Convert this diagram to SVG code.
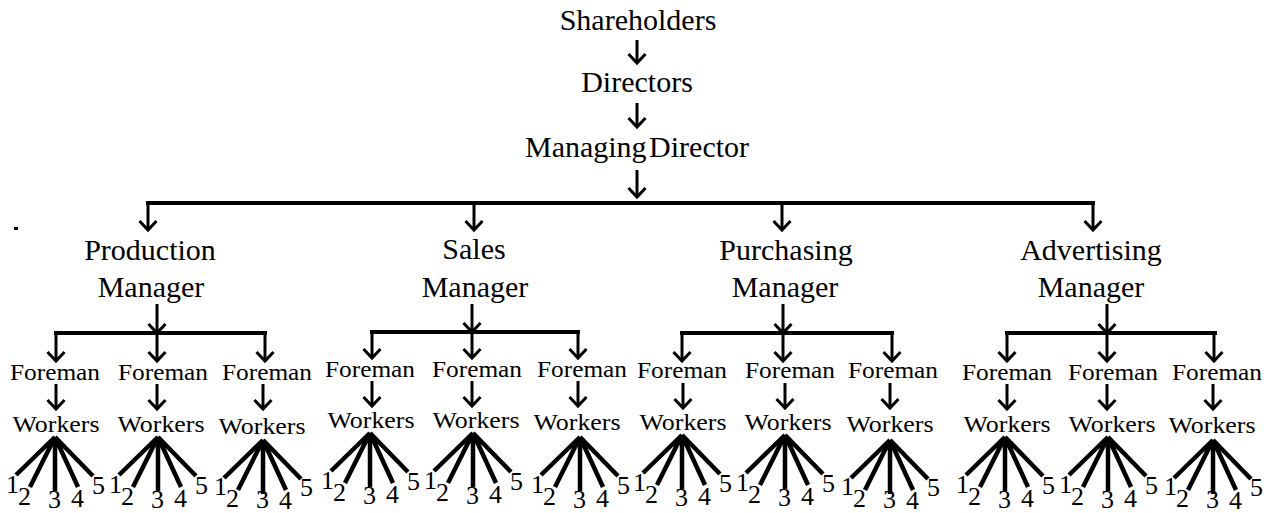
<svg xmlns="http://www.w3.org/2000/svg" width="1274" height="513" viewBox="0 0 1274 513">
  <style>
    text { font-family: "Liberation Serif", Tinos, "Times New Roman", Times, "Nimbus Roman", FreeSerif, "Noto Serif", "DejaVu Serif", serif; fill: #000; }
    .big { font-size: 30px; text-anchor: middle; }
    .small { font-size: 24px; text-anchor: middle; }
    .num { font-size: 26px; }
    .arrow { stroke: #000; stroke-width: 3; fill: none; marker-end: url(#head); }
    .bar { stroke: #000; stroke-width: 4; stroke-linecap: square; fill: none; }
    .fan { stroke: #000; stroke-width: 4.5; stroke-linecap: butt; fill: none; }
  </style>
  <defs>
    <marker id="head" viewBox="-12 -12 24 24" refX="0" refY="0" markerWidth="24" markerHeight="24" markerUnits="userSpaceOnUse" orient="auto">
      <path d="M-9,-8.5 L0,0 L-9,8.5" fill="none" stroke="#000" stroke-width="3"/>
    </marker>
    <!-- five spokes from a worker group to its numbered workers -->
    <path id="spokes" class="fan" d="M0,0 L-39,38 M0,0 L-25,50 M0,0 L0,54 M0,0 L23,50 M0,0 L38,39"/>
  </defs>
  <rect width="1274" height="513" fill="#fff"/>
  <rect x="14" y="227" width="4" height="3" fill="#000"/>

  <!-- top of the hierarchy -->
  <g id="shareholders"><text class="big" x="638" y="30">Shareholders</text></g>
  <g id="directors"><text class="big" x="637" y="92">Directors</text></g>
  <g id="managing-director"><text class="big" x="637" y="157" word-spacing="-5">Managing Director</text></g>

  <!-- department managers -->
  <g id="production-manager"><text class="big" x="150" y="260">Production</text><text class="big" x="151" y="297">Manager</text></g>
  <g id="sales-manager"><text class="big" x="474" y="259">Sales</text><text class="big" x="475" y="297">Manager</text></g>
  <g id="purchasing-manager"><text class="big" x="786" y="260">Purchasing</text><text class="big" x="785" y="297">Manager</text></g>
  <g id="advertising-manager"><text class="big" x="1091" y="260">Advertising</text><text class="big" x="1091" y="297">Manager</text></g>

  <!-- foremen -->
  <g id="foreman-p1"><text class="small" x="55" y="380" textLength="90" lengthAdjust="spacingAndGlyphs">Foreman</text></g>
  <g id="foreman-p2"><text class="small" x="163" y="380" textLength="90" lengthAdjust="spacingAndGlyphs">Foreman</text></g>
  <g id="foreman-p3"><text class="small" x="267" y="380" textLength="90" lengthAdjust="spacingAndGlyphs">Foreman</text></g>
  <g id="foreman-s1"><text class="small" x="370" y="377" textLength="90" lengthAdjust="spacingAndGlyphs">Foreman</text></g>
  <g id="foreman-s2"><text class="small" x="477" y="377" textLength="90" lengthAdjust="spacingAndGlyphs">Foreman</text></g>
  <g id="foreman-s3"><text class="small" x="582" y="377" textLength="90" lengthAdjust="spacingAndGlyphs">Foreman</text></g>
  <g id="foreman-u1"><text class="small" x="682" y="378" textLength="90" lengthAdjust="spacingAndGlyphs">Foreman</text></g>
  <g id="foreman-u2"><text class="small" x="790" y="378" textLength="90" lengthAdjust="spacingAndGlyphs">Foreman</text></g>
  <g id="foreman-u3"><text class="small" x="893" y="378" textLength="90" lengthAdjust="spacingAndGlyphs">Foreman</text></g>
  <g id="foreman-a1"><text class="small" x="1007" y="380" textLength="90" lengthAdjust="spacingAndGlyphs">Foreman</text></g>
  <g id="foreman-a2"><text class="small" x="1113" y="380" textLength="90" lengthAdjust="spacingAndGlyphs">Foreman</text></g>
  <g id="foreman-a3"><text class="small" x="1217" y="380" textLength="90" lengthAdjust="spacingAndGlyphs">Foreman</text></g>

  <!-- worker groups -->
  <g id="workers-p1"><text class="small" x="56" y="432" textLength="87" lengthAdjust="spacingAndGlyphs">Workers</text></g>
  <g id="workers-p2"><text class="small" x="161" y="432" textLength="87" lengthAdjust="spacingAndGlyphs">Workers</text></g>
  <g id="workers-p3"><text class="small" x="262" y="434" textLength="87" lengthAdjust="spacingAndGlyphs">Workers</text></g>
  <g id="workers-s1"><text class="small" x="371" y="428" textLength="87" lengthAdjust="spacingAndGlyphs">Workers</text></g>
  <g id="workers-s2"><text class="small" x="476" y="428" textLength="87" lengthAdjust="spacingAndGlyphs">Workers</text></g>
  <g id="workers-s3"><text class="small" x="577" y="430" textLength="87" lengthAdjust="spacingAndGlyphs">Workers</text></g>
  <g id="workers-u1"><text class="small" x="683" y="430" textLength="87" lengthAdjust="spacingAndGlyphs">Workers</text></g>
  <g id="workers-u2"><text class="small" x="788" y="430" textLength="87" lengthAdjust="spacingAndGlyphs">Workers</text></g>
  <g id="workers-u3"><text class="small" x="890" y="432" textLength="87" lengthAdjust="spacingAndGlyphs">Workers</text></g>
  <g id="workers-a1"><text class="small" x="1007" y="432" textLength="87" lengthAdjust="spacingAndGlyphs">Workers</text></g>
  <g id="workers-a2"><text class="small" x="1112" y="432" textLength="87" lengthAdjust="spacingAndGlyphs">Workers</text></g>
  <g id="workers-a3"><text class="small" x="1212" y="433" textLength="87" lengthAdjust="spacingAndGlyphs">Workers</text></g>

  <!-- numbered workers, placed relative to the spoke hub -->
  <g id="crew-p1" transform="translate(55,437)"><text class="num" x="-49" y="56">1</text><text class="num" x="-37" y="68">2</text><text class="num" x="-7" y="71">3</text><text class="num" x="16" y="70">4</text><text class="num" x="37" y="57">5</text></g>
  <g id="crew-p2" transform="translate(158,437)"><text class="num" x="-49" y="56">1</text><text class="num" x="-37" y="68">2</text><text class="num" x="-7" y="71">3</text><text class="num" x="16" y="70">4</text><text class="num" x="37" y="57">5</text></g>
  <g id="crew-p3" transform="translate(263,438)"><text class="num" x="-49" y="57">1</text><text class="num" x="-37" y="69">2</text><text class="num" x="-7" y="70">3</text><text class="num" x="16" y="71">4</text><text class="num" x="37" y="58">5</text></g>
  <g id="crew-s1" transform="translate(370,433)"><text class="num" x="-49" y="56">1</text><text class="num" x="-37" y="68">2</text><text class="num" x="-7" y="71">3</text><text class="num" x="16" y="70">4</text><text class="num" x="37" y="57">5</text></g>
  <g id="crew-s2" transform="translate(473,433)"><text class="num" x="-49" y="56">1</text><text class="num" x="-37" y="68">2</text><text class="num" x="-7" y="71">3</text><text class="num" x="16" y="70">4</text><text class="num" x="37" y="57">5</text></g>
  <g id="crew-s3" transform="translate(580,437)"><text class="num" x="-49" y="56">1</text><text class="num" x="-37" y="68">2</text><text class="num" x="-7" y="71">3</text><text class="num" x="16" y="70">4</text><text class="num" x="37" y="57">5</text></g>
  <g id="crew-u1" transform="translate(682,435)"><text class="num" x="-49" y="56">1</text><text class="num" x="-37" y="68">2</text><text class="num" x="-7" y="71">3</text><text class="num" x="16" y="70">4</text><text class="num" x="37" y="57">5</text></g>
  <g id="crew-u2" transform="translate(785,435)"><text class="num" x="-49" y="56">1</text><text class="num" x="-37" y="68">2</text><text class="num" x="-7" y="71">3</text><text class="num" x="16" y="70">4</text><text class="num" x="37" y="57">5</text></g>
  <g id="crew-u3" transform="translate(890,438)"><text class="num" x="-49" y="57">1</text><text class="num" x="-37" y="69">2</text><text class="num" x="-7" y="70">3</text><text class="num" x="16" y="71">4</text><text class="num" x="37" y="58">5</text></g>
  <g id="crew-a1" transform="translate(1005,437)"><text class="num" x="-49" y="56">1</text><text class="num" x="-37" y="68">2</text><text class="num" x="-7" y="71">3</text><text class="num" x="16" y="70">4</text><text class="num" x="37" y="57">5</text></g>
  <g id="crew-a2" transform="translate(1108,437)"><text class="num" x="-49" y="56">1</text><text class="num" x="-37" y="68">2</text><text class="num" x="-7" y="71">3</text><text class="num" x="16" y="70">4</text><text class="num" x="37" y="57">5</text></g>
  <g id="crew-a3" transform="translate(1213,438)"><text class="num" x="-49" y="57">1</text><text class="num" x="-37" y="69">2</text><text class="num" x="-7" y="70">3</text><text class="num" x="16" y="71">4</text><text class="num" x="37" y="58">5</text></g>

  <g id="connectors">
    <!-- chain at the top -->
    <path class="arrow" d="M637,40 V63"/>
    <path class="arrow" d="M637,103 V127"/>
    <path class="arrow" d="M637,170 V197"/>

    <!-- managing director to the four departments -->
    <path class="bar" d="M148,203 H1093"/>
    <path class="arrow" d="M148,203 V230"/>
    <path class="arrow" d="M474,203 V230"/>
    <path class="arrow" d="M782,203 V230"/>
    <path class="arrow" d="M1093,203 V230"/>

    <!-- managers down to their foremen -->
    <path class="arrow" d="M157,304 V333"/>
    <path class="bar" d="M56,333 H265"/>
    <path class="arrow" d="M56,333 V361"/>
    <path class="arrow" d="M157,333 V361"/>
    <path class="arrow" d="M265,333 V361"/>

    <path class="arrow" d="M472,304 V332"/>
    <path class="bar" d="M372,332 H578"/>
    <path class="arrow" d="M372,332 V358"/>
    <path class="arrow" d="M472,332 V358"/>
    <path class="arrow" d="M578,332 V358"/>

    <path class="arrow" d="M783,304 V333"/>
    <path class="bar" d="M682,333 H892"/>
    <path class="arrow" d="M682,333 V361"/>
    <path class="arrow" d="M783,333 V361"/>
    <path class="arrow" d="M892,333 V361"/>

    <path class="arrow" d="M1107,304 V333"/>
    <path class="bar" d="M1007,333 H1215"/>
    <path class="arrow" d="M1007,333 V361"/>
    <path class="arrow" d="M1107,333 V361"/>
    <path class="arrow" d="M1214,333 V361"/>

    <!-- foremen to workers -->
    <path class="arrow" d="M56,384 V409"/>
    <path class="arrow" d="M157,384 V409"/>
    <path class="arrow" d="M263,384 V409"/>
    <path class="arrow" d="M372,381 V406"/>
    <path class="arrow" d="M472,381 V406"/>
    <path class="arrow" d="M578,381 V406"/>
    <path class="arrow" d="M683,383 V408"/>
    <path class="arrow" d="M785,383 V408"/>
    <path class="arrow" d="M890,383 V408"/>
    <path class="arrow" d="M1007,384 V409"/>
    <path class="arrow" d="M1107,384 V409"/>
    <path class="arrow" d="M1213,384 V409"/>

    <!-- workers to numbered workers -->
    <use href="#spokes" x="55" y="437"/>
    <use href="#spokes" x="158" y="437"/>
    <use href="#spokes" x="263" y="440"/>
    <use href="#spokes" x="370" y="433"/>
    <use href="#spokes" x="473" y="433"/>
    <use href="#spokes" x="580" y="437"/>
    <use href="#spokes" x="682" y="435"/>
    <use href="#spokes" x="785" y="435"/>
    <use href="#spokes" x="890" y="440"/>
    <use href="#spokes" x="1005" y="437"/>
    <use href="#spokes" x="1108" y="437"/>
    <use href="#spokes" x="1213" y="440"/>
  </g>
</svg>
